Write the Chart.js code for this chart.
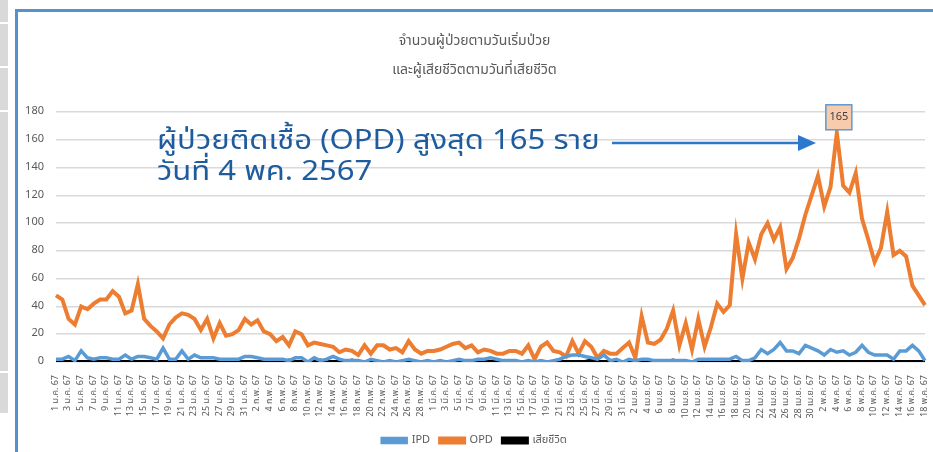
<!DOCTYPE html>
<html>
<head>
<meta charset="utf-8">
<script src="https://cdn.jsdelivr.net/npm/chart.js@4.4.1/dist/chart.umd.min.js"></script>
<style>
    html, body { margin: 0; padding: 0; background: #fff; }
    body { width: 933px; height: 452px; position: relative; overflow: hidden; font-family: "Noto Sans Thai", "Noto Sans", sans-serif; }
    .strip { position: absolute; left: 0; width: 8px; background: #d9d9d9; }
    .frame-top { position: absolute; left: 15px; top: 9px; width: 918px; height: 3px; background: #5590cf; }
    .frame-left { position: absolute; left: 15px; top: 9px; width: 3px; height: 443px; background: #5590cf; }
    #wrap { position: absolute; left: 19px; top: 13px; width: 914px; height: 443px; }
    .note { position: absolute; left: 157px; top: 125px; color: #1f5c9e; font-size: 27px; line-height: 31px; white-space: nowrap; transform: scaleX(1.15); transform-origin: left top; }
    svg { position: absolute; left: 0; top: 0; }
</style>
</head>
<body>
<div class="strip" style="top:0;height:22px"></div>
<div class="strip" style="top:24px;height:42px"></div>
<div class="strip" style="top:68px;height:42px"></div>
<div class="strip" style="top:112px;height:259px"></div>
<div class="strip" style="top:373px;height:40px"></div>
<div class="frame-top"></div>
<div class="frame-left"></div>
<div id="wrap"><canvas id="epiChart"></canvas></div>
<div class="note">ผู้ป่วยติดเชื้อ (OPD) สูงสุด 165 ราย<br>วันที่ 4 พค. 2567</div>
<svg width="933" height="452">
    <line x1="612" y1="143" x2="800" y2="143" stroke="#2c78cf" stroke-width="2.5"/>
    <polygon points="798,135 816,143 798,151" fill="#2c78cf"/>
</svg>
<script>
// day-by-day, 1 ม.ค. 67 - 18 พ.ค. 67
var monthNames = ['ม.ค.', 'ก.พ.', 'มี.ค.', 'เม.ย.', 'พ.ค.'];
var monthDays = [31, 29, 31, 30, 18];
var yearLabel = '67';

var titleLines = ['จำนวนผู้ป่วยตามวันเริ่มป่วย', 'และผู้เสียชีวิตตามวันที่เสียชีวิต'];

var ipd = [2, 2, 4, 1, 8, 3, 2, 3, 3, 2, 2, 5, 2, 4, 4, 3, 2, 10, 2, 2, 8, 2, 5, 3, 3, 3, 2, 2, 2, 2, 4,
    4, 3, 2, 2, 2, 2, 1, 3, 3, 0, 3, 1, 2, 4, 2, 1, 1, 1, 0, 2, 1, 0, 1, 0, 1, 2, 1, 0, 1,
    0, 1, 0, 1, 2, 1, 1, 2, 2, 3, 2, 1, 1, 1, 0, 1, 0, 1, 0, 1, 2, 4, 5, 5, 4, 3, 2, 5, 1, 2, 0,
    2, 1, 2, 2, 1, 1, 1, 1, 1, 1, 0, 2, 2, 2, 2, 2, 2, 4, 1, 1, 3, 9, 6, 9, 14, 8, 8, 6, 12, 10,
    8, 5, 9, 7, 8, 5, 7, 12, 7, 5, 5, 5, 2, 8, 8, 12, 8, 1];

var opd = [48, 45, 31, 27, 40, 38, 42, 45, 45, 51, 47, 35, 37, 56, 31, 26, 22, 17, 27, 32, 35, 34, 31, 23, 31, 17, 28, 19, 20, 23, 31,
    27, 30, 22, 20, 15, 18, 12, 22, 20, 12, 14, 13, 12, 11, 7, 9, 8, 5, 12, 6, 12, 12, 9, 10, 7, 15, 9, 6, 8,
    8, 9, 11, 13, 14, 10, 12, 7, 9, 8, 6, 6, 8, 8, 6, 12, 2, 11, 14, 8, 7, 4, 15, 6, 15, 11, 3, 8, 6, 6, 10,
    14, 3, 33, 14, 13, 16, 24, 37, 12, 28, 9, 31, 11, 25, 42, 36, 41, 92, 60, 86, 74, 92, 100, 88, 97, 67, 75, 89, 106, 120,
    134, 112, 126, 165, 127, 122, 136, 103, 88, 72, 82, 108, 77, 80, 76, 55, 48, 41];

var deaths = [0, 0, 0, 0, 0, 0, 0, 0, 0, 0, 0, 0, 0, 0, 0, 0, 0, 0, 0, 0, 0, 0, 0, 0, 0, 0, 0, 0, 0, 0, 0,
    0, 0, 0, 0, 0, 0, 1, 0, 0, 0, 0, 1, 0, 0, 0, 0, 1, 0, 0, 0, 0, 0, 0, 0, 0, 0, 0, 0, 0,
    0, 0, 0, 0, 0, 0, 0, 0, 0, 0, 0, 0, 0, 0, 0, 0, 0, 0, 0, 0, 0, 0, 0, 0, 0, 1, 0, 0, 0, 0, 0,
    0, 0, 0, 0, 0, 0, 0, 1, 0, 0, 0, 0, 0, 0, 0, 0, 0, 0, 0, 0, 0, 0, 0, 0, 0, 0, 0, 0, 0, 0,
    0, 0, 0, 0, 0, 0, 0, 0, 0, 0, 0, 0, 0, 0, 0, 0, 0, 0];

function getDayLabels() {
    let labels = [];
    for (var m = 0; m < monthNames.length; m++)
        for (var d = 1; d <= monthDays[m]; d++)
            labels.push(d + ' ' + monthNames[m] + ' ' + yearLabel);
    return labels;
}

var dayLabels = getDayLabels();
var fontFamily = '"Noto Sans Thai", "Noto Sans", sans-serif';

// box with the value over the highest OPD point
var peakLabel = {
    id: 'peakLabel',
    afterDatasetsDraw(chart) {
        let meta = chart.getDatasetMeta(1);
        let data = chart.data.datasets[1].data;
        let k = data.indexOf(Math.max.apply(null, data));
        let pt = meta.data[k];
        let ctx = chart.ctx;
        let w = 26, h = 25;
        ctx.save();
        ctx.fillStyle = '#f8cbad';
        ctx.strokeStyle = '#5b9bd5';
        ctx.lineWidth = 1.5;
        ctx.fillRect(pt.x - w / 2 + 2, pt.y - h - 3, w, h);
        ctx.strokeRect(pt.x - w / 2 + 2, pt.y - h - 3, w, h);
        ctx.fillStyle = '#404040';
        ctx.font = '11px ' + fontFamily;
        ctx.textAlign = 'center';
        ctx.textBaseline = 'middle';
        ctx.fillText(String(data[k]), pt.x + 2, pt.y - h / 2 - 3);
        ctx.restore();
    }
};

function createChart() {
    var ctx = document.getElementById('epiChart').getContext('2d');
    return new Chart(ctx, {
        type: 'line',
        data: {
            labels: dayLabels,
            datasets: [{
                label: 'IPD',
                data: ipd,
                borderColor: '#5b9bd5',
                backgroundColor: '#5b9bd5',
                borderWidth: 3.5,
                pointRadius: 0,
                tension: 0
            }, {
                label: 'OPD',
                data: opd,
                borderColor: '#ed7d31',
                backgroundColor: '#ed7d31',
                borderWidth: 4,
                pointRadius: 0,
                tension: 0
            }, {
                label: 'เสียชีวิต',
                data: deaths,
                borderColor: '#000000',
                backgroundColor: '#000000',
                borderWidth: 4,
                pointRadius: 0,
                tension: 0
            }]
        },
        options: {
            responsive: true,
            maintainAspectRatio: false,
            animation: false,
            layout: {
                padding: { left: 5, right: 8, top: 0, bottom: 0 }
            },
            plugins: {
                title: {
                    display: true,
                    text: titleLines,
                    color: '#595959',
                    font: { family: fontFamily, size: 14, weight: 'normal', lineHeight: 2.07 },
                    padding: { top: 15, bottom: 26 }
                },
                legend: {
                    position: 'bottom',
                    labels: {
                        color: '#595959',
                        font: { family: fontFamily, size: 11 },
                        boxWidth: 24,
                        boxHeight: 4,
                        padding: 10
                    }
                },
                tooltip: { enabled: false }
            },
            scales: {
                x: {
                    grid: { display: false },
                    border: { display: false },
                    ticks: {
                        autoSkip: false,
                        maxRotation: 90,
                        minRotation: 90,
                        padding: 5,
                        color: '#595959',
                        font: { family: fontFamily, size: 9 },
                        callback: function (v, i) {
                            return i % 2 == 0 ? dayLabels[i] : '';
                        }
                    },
                    afterFit: function (scale) {
                        scale.height = 63;
                        scale.paddingLeft = 0;
                        scale.paddingRight = 0;
                    }
                },
                y: {
                    min: 0,
                    max: 180,
                    grid: { color: '#d9d9d9', lineWidth: 1.5, drawTicks: false },
                    border: { display: false },
                    ticks: {
                        stepSize: 20,
                        padding: 12,
                        color: '#595959',
                        font: { family: fontFamily, size: 11 }
                    },
                    afterFit: function (scale) {
                        scale.width = 32;
                    }
                }
            }
        },
        plugins: [peakLabel]
    });
}

var epiChart = createChart();
</script>
</body>
</html>
